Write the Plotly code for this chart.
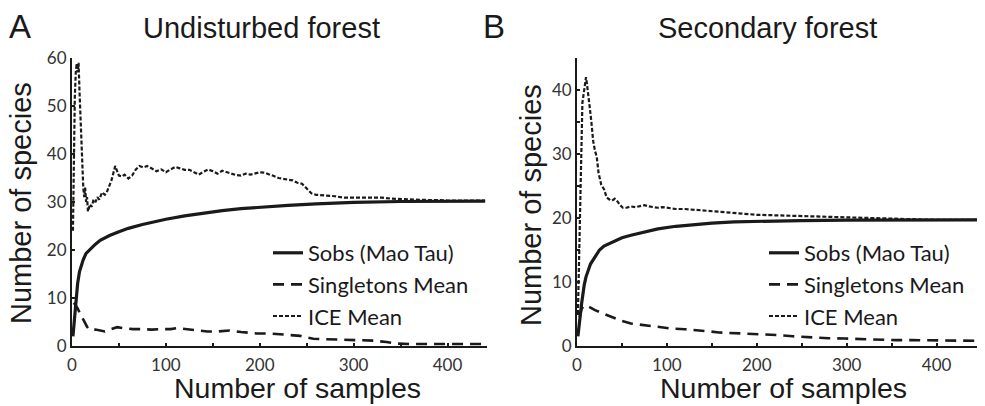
import plotly.graph_objects as go

# ---------------- Panel A: Undisturbed forest ----------------
a_sobs_x = [1, 2, 3, 4, 5, 6, 8, 10, 12, 15, 20, 25, 30, 40, 50, 60, 75, 90, 100, 120,
            140, 160, 180, 200, 230, 260, 300, 350, 400, 440]
a_sobs_y = [2, 4, 7, 9.5, 11.5, 13, 15.5, 17, 18, 19.3, 20.3, 21.2, 22, 23, 23.8, 24.5, 25.3, 26,
            26.4, 27.1, 27.7, 28.2, 28.6, 28.9, 29.3, 29.6, 29.9, 30.1, 30.2, 30.2]

a_single_x = [2, 4, 6, 8, 10, 12, 14, 16, 18, 20, 25, 30, 35, 40, 45, 48, 55, 65, 75, 85, 95,
              105, 112, 120, 130, 144, 155, 168, 180, 197, 210, 229, 243, 250, 257, 270, 300,
              321, 335, 345, 360, 374, 400, 427, 440]
a_single_y = [9, 8.5, 7.8, 7, 6.2, 5.3, 4.5, 4, 3.5, 3.3, 3.4, 3.2, 3.0, 3.4, 3.8, 3.9, 3.7, 3.5,
              3.5, 3.4, 3.5, 3.5, 3.7, 3.5, 3.2, 3.0, 3.0, 3.2, 2.9, 2.6, 2.6, 2.3, 2.1, 1.8, 1.5,
              1.4, 1.2, 1.1, 0.8, 0.5, 0.4, 0.4, 0.4, 0.4, 0.4]

a_ice_x = [1, 2, 3, 4, 5, 6, 7, 8, 9, 10, 11, 12, 13, 14, 15, 16, 17, 19, 21, 23, 25, 27, 29,
           32, 35, 37, 40, 42, 44, 46, 48, 50, 53, 56, 60, 64, 68, 72, 76, 80, 85, 90, 95, 100,
           105, 110, 115, 120, 125, 130, 135, 140, 145, 150, 155, 160, 165, 170, 175, 180, 185,
           190, 195, 200, 205, 210, 215, 220, 225, 230, 235, 240, 245, 250, 255, 260, 270, 280,
           290, 300, 310, 320, 330, 340, 350, 360, 370, 380, 390, 400, 420, 440]
a_ice_y = [24, 40, 52, 57, 58.9, 57, 59, 53, 48, 42, 36, 33, 31, 33, 30, 31, 28, 29.5, 29, 30.5,
           30, 31, 30.5, 32, 31.5, 32, 33.5, 34.5, 36, 37.5, 36.5, 35.5, 35.3, 35.7, 34.9, 35.5,
           36.8, 37.5, 37.2, 37.5, 37, 36.4, 36.8, 36.2, 36.8, 37.3, 37, 36.7, 36.7, 36.2, 35.7,
           36.3, 36.8, 36.4, 35.9, 36.5, 36.2, 35.8, 35.6, 35.5, 35.9, 35.7, 36.0, 36.2, 36.1,
           35.8, 35.4, 35.0, 34.8, 34.6, 34.5, 34.0, 33.8, 32.8, 31.8, 31.5, 31.4, 31.2, 30.9,
           30.9, 31.0, 31.0, 30.9, 30.7, 30.6, 30.5, 30.4, 30.4, 30.4, 30.3, 30.3, 30.3]

# ---------------- Panel B: Secondary forest ----------------
b_sobs_x = [1, 2, 3, 5, 8, 10, 15, 20, 25, 30, 40, 50, 60, 75, 90, 110, 130, 150, 175, 200,
            250, 300, 350, 400, 445]
b_sobs_y = [1.5, 3, 4, 6.5, 9.5, 10.8, 12.8, 14, 15, 15.6, 16.3, 16.9, 17.3, 17.8, 18.3, 18.7,
            19.0, 19.2, 19.4, 19.5, 19.6, 19.65, 19.7, 19.7, 19.7]

b_single_x = [3, 5, 8, 11, 15, 20, 30, 40, 50, 60, 75, 90, 106, 120, 132, 145, 158, 175, 195,
              210, 224, 240, 261, 280, 298, 320, 335, 355, 372, 400, 439, 445]
b_single_y = [4.5, 5.8, 6.3, 6.3, 6.0, 5.6, 5.0, 4.4, 3.9, 3.5, 3.25, 3.0, 2.7, 2.6, 2.5, 2.3,
              2.1, 2.0, 1.85, 1.75, 1.7, 1.5, 1.3, 1.2, 1.15, 1.05, 0.95, 0.9, 0.9, 0.85, 0.8, 0.8]

b_ice_x = [1, 2, 3, 4, 5, 6, 7, 8, 9, 10, 11, 12, 14, 16, 18, 20, 22, 24, 27, 30, 33, 36, 39,
           42, 45, 48, 51, 55, 60, 65, 70, 75, 80, 85, 90, 95, 100, 110, 120, 130, 140, 150,
           160, 170, 180, 190, 200, 225, 250, 275, 300, 325, 350, 375, 400, 445]
b_ice_y = [5, 12, 20, 28, 35, 38, 39, 40, 41.5, 42, 41, 40, 37.5, 35, 32, 30.5, 29.5, 27, 25.2,
           24.5, 23.2, 22.9, 22.7, 23, 22.6, 22, 21.6, 21.6, 21.8, 21.7, 21.9, 22, 21.8, 21.7,
           21.6, 21.7, 21.6, 21.4, 21.4, 21.3, 21.1, 21.1, 21.0, 20.8, 20.7, 20.7, 20.5, 20.4,
           20.3, 20.1, 20.0, 19.9, 19.8, 19.8, 19.7, 19.7]

series_names = ["Sobs (Mao Tau)", "Singletons Mean", "ICE Mean"]
panel_titles = ["Undisturbed forest", "Secondary forest"]
panel_letters = ["A", "B"]
x_title = "Number of samples"
y_title = "Number of species"
a_yticks = [0, 10, 20, 30, 40, 50, 60]
b_yticks = [0, 10, 20, 30, 40]
xticks = [0, 100, 200, 300, 400]

INK = "#1a1a1a"
TICKFONT = dict(family="Lato, Open Sans, sans-serif", size=17, color="#333333")
LEGFONT = dict(family="Lato, Open Sans, sans-serif", size=22, color="#1a1a1a")
SANS = "Liberation Sans, Arial, sans-serif"

styles = [dict(color=INK, width=3.2, dash="solid"),
          dict(color=INK, width=2.6, dash="11px,7px"),
          dict(color=INK, width=2.2, dash="4px,2px")]

fig = go.Figure()

panels = [
    ("x", "y", "legend", [(a_sobs_x, a_sobs_y), (a_single_x, a_single_y), (a_ice_x, a_ice_y)]),
    ("x2", "y2", "legend2", [(b_sobs_x, b_sobs_y), (b_single_x, b_single_y), (b_ice_x, b_ice_y)]),
]
for xa, ya, leg, data in panels:
    for name, (xs, ys), st in zip(series_names, data, styles):
        fig.add_trace(go.Scatter(x=xs, y=ys, mode="lines", name=name, line=st,
                                 xaxis=xa, yaxis=ya, legend=leg, showlegend=True,
                                 hoverinfo="skip"))

axis_common = dict(showgrid=False, zeroline=False, showline=True, linecolor=INK, linewidth=2,
                   ticks="inside", ticklen=3, tickwidth=2, tickcolor=INK, tickfont=TICKFONT,
                   fixedrange=True, automargin=False)
minor_common = dict(ticks="inside", ticklen=3, tickcolor=INK, tickwidth=2)

ydom = [0.148, 0.857]
fig.update_layout(
    template="none",
    width=985, height=406,
    margin=dict(l=0, r=0, t=0, b=0, pad=0, autoexpand=False),
    paper_bgcolor="white", plot_bgcolor="white",
    xaxis=dict(domain=[0.0731, 0.4944], range=[0, 442], tickvals=xticks, ticklabelstandoff=3,
               minor=dict(dtick=50, **minor_common), anchor="y", **axis_common),
    yaxis=dict(domain=ydom, range=[0, 60], tickvals=a_yticks, anchor="x", **axis_common),
    xaxis2=dict(domain=[0.5858, 0.9919], range=[0, 445], tickvals=xticks, ticklabelstandoff=3,
                minor=dict(dtick=50, **minor_common), anchor="y2", **axis_common),
    yaxis2=dict(domain=ydom, range=[0, 45], tickvals=b_yticks, anchor="x2",
                minor=dict(dtick=5, **minor_common), **axis_common),
    legend=dict(x=268 / 985, y=1 - 232 / 406, xanchor="left", yanchor="top",
                bgcolor="rgba(0,0,0,0)", font=LEGFONT, tracegroupgap=0, itemwidth=30),
    legend2=dict(x=764 / 985, y=1 - 232 / 406, xanchor="left", yanchor="top",
                 bgcolor="rgba(0,0,0,0)", font=LEGFONT, tracegroupgap=0, itemwidth=30),
    showlegend=True,
)

ann = []
ann.append(dict(text=panel_letters[0], x=20 / 985, y=1 - 27 / 406, font=dict(family=SANS, size=33, color=INK)))
ann.append(dict(text=panel_letters[1], x=494 / 985, y=1 - 27 / 406, font=dict(family=SANS, size=33, color=INK)))
ann.append(dict(text=panel_titles[0], x=261 / 985, y=1 - 28 / 406, font=dict(family=SANS, size=29, color=INK)))
ann.append(dict(text=panel_titles[1], x=767 / 985, y=1 - 28 / 406, font=dict(family=SANS, size=29, color=INK)))
ann.append(dict(text=x_title, x=297 / 985, y=0.0, yanchor="bottom", font=dict(family=SANS, size=28.5, color=INK)))
ann.append(dict(text=x_title, x=783 / 985, y=0.0, yanchor="bottom", font=dict(family=SANS, size=28.5, color=INK)))
ann.append(dict(text=y_title, x=21 / 985, y=1 - 203 / 406, textangle=-90, font=dict(family=SANS, size=29, color=INK)))
ann.append(dict(text=y_title, x=531 / 985, y=1 - 205 / 406, textangle=-90, font=dict(family=SANS, size=29, color=INK)))
for a in ann:
    a.setdefault("yanchor", "middle")
    a.update(xref="paper", yref="paper", showarrow=False, xanchor="center")
fig.update_layout(annotations=ann)

fig.write_html("out.html", config={"displayModeBar": False},
               post_script="document.body.style.margin='0';document.body.style.overflow='hidden';")
